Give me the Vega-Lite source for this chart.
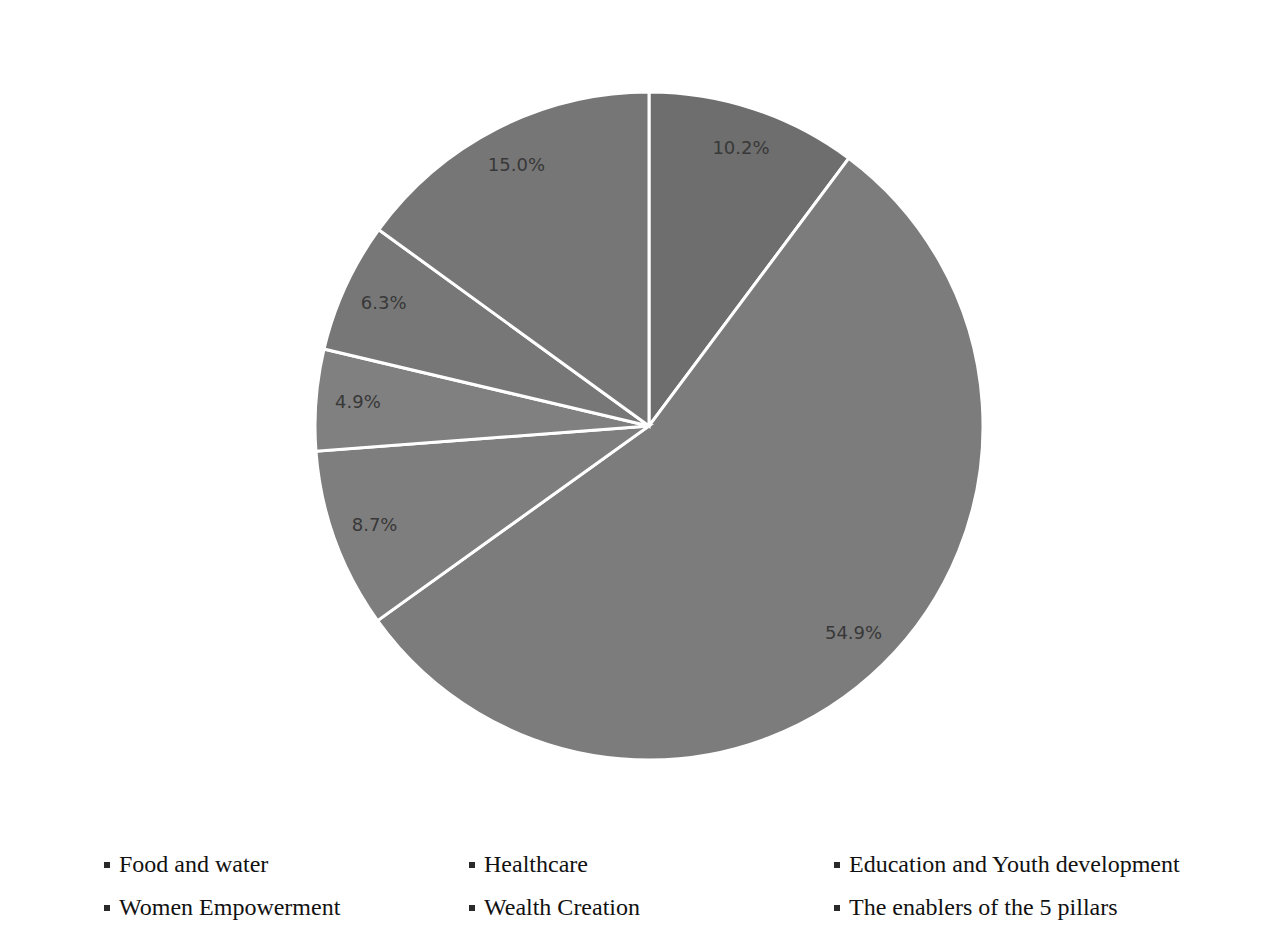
{
  "$schema": "https://vega.github.io/schema/vega-lite/v6.json",
  "width": 1244,
  "height": 852,
  "autosize": {"type": "none"},
  "padding": {"left": 27, "top": 0, "right": 0, "bottom": 82},
  "background": "#ffffff",
  "config": {"view": {"stroke": null}},
  "data": {
    "values": [
      {"category": "Food and water", "share": 0.102, "order": 1},
      {"category": "Healthcare", "share": 0.549, "order": 2},
      {"category": "Education and Youth development", "share": 0.087, "order": 3},
      {"category": "Women Empowerment", "share": 0.049, "order": 4},
      {"category": "Wealth Creation", "share": 0.063, "order": 5},
      {"category": "The enablers of the 5 pillars", "share": 0.150, "order": 6}
    ]
  },
  "encoding": {
    "theta": {"field": "share", "type": "quantitative", "stack": true},
    "order": {"field": "order", "type": "quantitative"}
  },
  "layer": [
    {
      "mark": {"type": "arc", "outerRadius": 334, "stroke": "#ffffff", "strokeWidth": 3},
      "encoding": {
        "color": {
          "field": "category",
          "type": "nominal",
          "sort": ["Food and water", "Healthcare", "Education and Youth development", "Women Empowerment", "Wealth Creation", "The enablers of the 5 pillars"],
          "scale": {
            "domain": ["Food and water", "Healthcare", "Education and Youth development", "Women Empowerment", "Wealth Creation", "The enablers of the 5 pillars"],
            "range": ["#6e6e6e", "#7c7c7c", "#7e7e7e", "#808080", "#777777", "#767676"]
          },
          "legend": {
            "title": null,
            "orient": "none",
            "legendX": 68,
            "legendY": 853,
            "direction": "horizontal",
            "columns": 3,
            "gridAlign": "all",
            "columnPadding": 9,
            "rowPadding": 19,
            "symbolType": "square",
            "symbolSize": 9,
            "symbolStrokeWidth": 3,
            "symbolStrokeColor": "#2a2a2a",
            "labelFont": "Liberation Serif",
            "labelFontSize": 24,
            "labelColor": "#111111",
            "labelOffset": 0,
            "labelLimit": 420,
            "encode": {"symbols": {"enter": {"fill": {"value": "#2a2a2a"}}, "update": {"fill": {"value": "#2a2a2a"}, "stroke": {"value": "#2a2a2a"}, "opacity": {"value": 1}}}}
          }
        }
      }
    },
    {
      "mark": {"type": "text", "radius": 292, "font": "DejaVu Sans", "fontSize": 18, "color": "#383838", "align": "center", "baseline": "middle"},
      "encoding": {
        "text": {"field": "share", "type": "quantitative", "format": ".1%"}
      }
    }
  ]
}
